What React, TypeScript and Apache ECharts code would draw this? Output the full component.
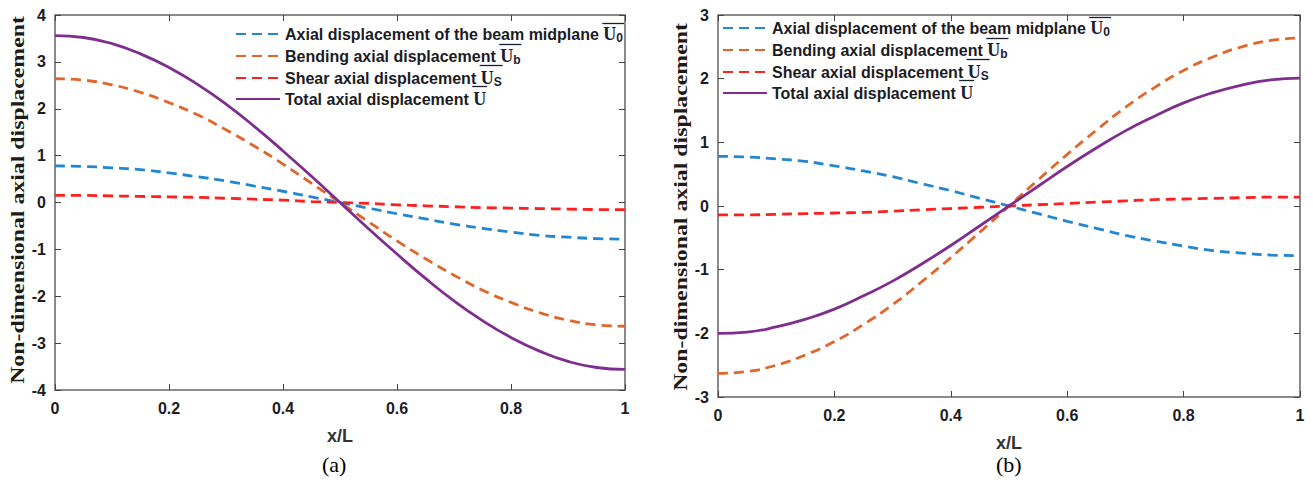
import React, { useEffect, useRef } from "react";
import * as echarts from "echarts";

// Non-dimensional position along the beam
const XL = [0, 0.05, 0.1, 0.15, 0.2, 0.25, 0.3, 0.35, 0.4, 0.45, 0.5, 0.55, 0.6, 0.65, 0.7, 0.75, 0.8, 0.85, 0.9, 0.95, 1];

// Panel (a)
const A_U0 = [0.78, 0.77, 0.74, 0.70, 0.63, 0.55, 0.46, 0.35, 0.24, 0.12, 0.0, -0.12, -0.24, -0.35, -0.46, -0.55, -0.63, -0.70, -0.74, -0.77, -0.78];
const A_UB = [2.64, 2.61, 2.51, 2.35, 2.13, 1.87, 1.55, 1.2, 0.82, 0.41, 0.0, -0.41, -0.82, -1.2, -1.55, -1.87, -2.13, -2.35, -2.51, -2.61, -2.64];
const A_US = [0.15, 0.15, 0.14, 0.13, 0.12, 0.11, 0.09, 0.07, 0.05, 0.02, 0.0, -0.02, -0.05, -0.07, -0.09, -0.11, -0.12, -0.13, -0.14, -0.15, -0.15];
const A_U = [3.56, 3.52, 3.39, 3.17, 2.88, 2.52, 2.1, 1.62, 1.1, 0.56, 0.0, -0.56, -1.1, -1.62, -2.1, -2.52, -2.88, -3.17, -3.39, -3.52, -3.56];

// Panel (b)
const B_U0 = [0.78, 0.77, 0.74, 0.70, 0.63, 0.55, 0.46, 0.35, 0.24, 0.12, 0.0, -0.12, -0.24, -0.35, -0.46, -0.55, -0.63, -0.70, -0.74, -0.77, -0.78];
const B_UB = [-2.63, -2.6, -2.5, -2.34, -2.13, -1.86, -1.55, -1.19, -0.81, -0.41, 0.0, 0.41, 0.81, 1.19, 1.55, 1.86, 2.13, 2.34, 2.5, 2.6, 2.64];
const B_US = [-0.14, -0.14, -0.13, -0.12, -0.11, -0.1, -0.08, -0.06, -0.04, -0.02, 0.0, 0.02, 0.04, 0.06, 0.08, 0.1, 0.11, 0.12, 0.13, 0.14, 0.14];
const B_U = [-2.0, -1.98, -1.9, -1.78, -1.62, -1.41, -1.18, -0.91, -0.62, -0.31, 0.0, 0.31, 0.62, 0.91, 1.18, 1.41, 1.62, 1.78, 1.9, 1.98, 2.01];

const NAMES = [
  "Axial displacement of the beam midplane",
  "Bending axial displacement",
  "Shear axial displacement",
  "Total axial displacement",
];
const SUBS = ["0", "b", "S", ""];
const COLORS = ["#2386d0", "#e0672c", "#ff1f1f", "#7e2f8e"];

const Y_TITLE = "Non-dimensional axial displacement";
const X_TITLE = "x/L";
const PANELS = ["(a)", "(b)"];

const SANS = "'Liberation Sans', Arial, sans-serif";
const SERIF = "'Liberation Serif', 'Times New Roman', serif";
const TXT = "#1c1c24";
const SYM = "#1a2030";
const FRAME = "#646464";

const LEG_FONT = 16;
const U_FONT = 18;
const SUB_FONT = 12;

const pairs = (ys: number[]) => XL.map((x, i) => [x, ys[i]]);

// text width helper, used to place the overline bars of the legend symbols
const measure = (text: string, font: string) => {
  const ctx = document.createElement("canvas").getContext("2d");
  if (!ctx) return text.length * 8;
  ctx.font = font;
  return ctx.measureText(text).width;
};

export default function App() {
  const ref = useRef<HTMLDivElement>(null);

  useEffect(() => {
    if (!ref.current) return;
    const chart = echarts.init(ref.current, null, { renderer: "svg" });

    const grids = [
      { left: 55, top: 15, width: 570, height: 375 },
      { left: 718, top: 15, width: 582, height: 382 },
    ];
    const yRanges = [
      [-4, 4],
      [-3, 3],
    ];

    const tick = { show: true, inside: true, length: 6, lineStyle: { color: "#444", width: 1 } };
    const xAxes: any[] = [];
    const yAxes: any[] = [];
    grids.forEach((_, g) => {
      xAxes.push({
        gridIndex: g,
        type: "value",
        min: 0,
        max: 1,
        interval: 0.2,
        position: "bottom",
        name: X_TITLE,
        nameLocation: "middle",
        nameGap: 37,
        nameTextStyle: { fontFamily: SANS, fontWeight: "bold", fontSize: 18, color: "#333" },
        axisLine: { show: false, onZero: false },
        axisTick: tick,
        axisLabel: { fontFamily: SANS, fontWeight: "bold", fontSize: 16, color: TXT, margin: 10 },
        splitLine: { show: false },
      });
      xAxes.push({
        gridIndex: g,
        type: "value",
        min: 0,
        max: 1,
        interval: 0.2,
        position: "top",
        axisLine: { show: false, onZero: false },
        axisTick: tick,
        axisLabel: { show: false },
        splitLine: { show: false },
      });
      yAxes.push({
        gridIndex: g,
        type: "value",
        min: yRanges[g][0],
        max: yRanges[g][1],
        interval: 1,
        position: "left",
        axisLine: { show: false, onZero: false },
        axisTick: tick,
        axisLabel: { fontFamily: SANS, fontWeight: "bold", fontSize: 16, color: TXT, margin: 9 },
        splitLine: { show: false },
      });
      yAxes.push({
        gridIndex: g,
        type: "value",
        min: yRanges[g][0],
        max: yRanges[g][1],
        interval: 1,
        position: "right",
        axisLine: { show: false, onZero: false },
        axisTick: tick,
        axisLabel: { show: false },
        splitLine: { show: false },
      });
    });

    const mk = (name: string, data: number[], g: number, k: number) => ({
      type: "line",
      name,
      xAxisIndex: g * 2,
      yAxisIndex: g * 2,
      data: pairs(data),
      smooth: true,
      showSymbol: false,
      symbol: "none",
      silent: true,
      color: COLORS[k],
      lineStyle: k === 3 ? { width: 2.8, color: COLORS[k] } : { type: [10, 6], width: 2.8, color: COLORS[k] },
    });

    const series = [
      mk(NAMES[0], A_U0, 0, 0),
      mk(NAMES[1], A_UB, 0, 1),
      mk(NAMES[2], A_US, 0, 2),
      mk(NAMES[3], A_U, 0, 3),
      mk(NAMES[0], B_U0, 1, 0),
      mk(NAMES[1], B_UB, 1, 1),
      mk(NAMES[2], B_US, 1, 2),
      mk(NAMES[3], B_U, 1, 3),
    ];

    const LH = 18;
    const rich = {
      t: { fontFamily: SANS, fontWeight: "bold", fontSize: LEG_FONT, color: TXT, lineHeight: LH },
      u: { fontFamily: SERIF, fontWeight: "bold", fontSize: U_FONT, color: SYM, lineHeight: LH },
      s: { fontFamily: SANS, fontWeight: "bold", fontSize: SUB_FONT, color: SYM, lineHeight: LH, padding: [8, 0, 0, 0] },
    };
    const legendFmt = (name: string) => {
      const k = NAMES.indexOf(name);
      const sub = SUBS[k] ? `{s|${SUBS[k]}}` : "";
      return `{t|${name} }{u|U}${sub}`;
    };
    const ITEM_W = 44;
    const GAP = 2;
    const PITCH = 21; // rendered row height (19) + gap
    const legendBase = {
      orient: "vertical",
      data: NAMES,
      itemWidth: ITEM_W,
      itemHeight: LH,
      itemGap: GAP,
      padding: 0,
      selectedMode: false,
      formatter: legendFmt,
      itemStyle: { opacity: 0 },
      textStyle: { rich },
    };
    const legendPos = [
      { left: 235, top: 24 },
      { left: 722, top: 18 },
    ];

    // overline bars above U, U0, Ub, US
    const tFont = `bold ${LEG_FONT}px 'Liberation Sans'`;
    const uFont = `bold ${U_FONT}px 'Liberation Serif'`;
    const sFont = `bold ${SUB_FONT}px 'Liberation Sans'`;
    const overlines: any[] = [];
    legendPos.forEach((p) => {
      NAMES.forEach((name, k) => {
        const x0 = p.left + ITEM_W + 5 + measure(name + " ", tFont);
        const w = measure("U", uFont) + (SUBS[k] ? measure(SUBS[k], sFont) : 0);
        const yc = p.top + k * PITCH + 9.5;
        overlines.push({
          type: "line",
          silent: true,
          shape: { x1: x0, y1: yc - 10, x2: x0 + w + 2, y2: yc - 10 },
          style: { stroke: SYM, lineWidth: 1.3 },
        });
      });
    });

    // y titles, stretched along the reading direction
    const yFont = 19;
    const yW = measure(Y_TITLE, `bold ${yFont}px 'Liberation Serif'`);
    const yTitle = (x: number, y: number) => ({
      type: "text",
      x,
      y,
      rotation: Math.PI / 2,
      scaleX: 368 / yW,
      silent: true,
      style: {
        text: Y_TITLE,
        fontFamily: SERIF,
        fontWeight: "bold",
        fontSize: yFont,
        fill: "#1e1a16",
        align: "center",
        verticalAlign: "middle",
      },
    });

    chart.setOption({
      animation: false,
      backgroundColor: "#ffffff",
      grid: grids.map((g) => ({ ...g, show: true, borderColor: FRAME, borderWidth: 1.5, backgroundColor: "transparent" })),
      xAxis: xAxes,
      yAxis: yAxes,
      legend: legendPos.map((p) => ({ ...legendBase, ...p })),
      series,
      graphic: [
        ...overlines,
        yTitle(18, 200),
        yTitle(681, 207),
        {
          type: "text",
          left: 322,
          top: 453,
          style: { text: PANELS[0], fontFamily: SERIF, fontSize: 22, fill: "#000" },
        },
        {
          type: "text",
          left: 996,
          top: 453,
          style: { text: PANELS[1], fontFamily: SERIF, fontSize: 22, fill: "#000" },
        },
      ],
    });

    return () => chart.dispose();
  }, []);

  return (
    <div
      ref={ref}
      style={{ position: "absolute", left: 0, top: 0, width: 1313, height: 485, background: "#fff" }}
    />
  );
}
